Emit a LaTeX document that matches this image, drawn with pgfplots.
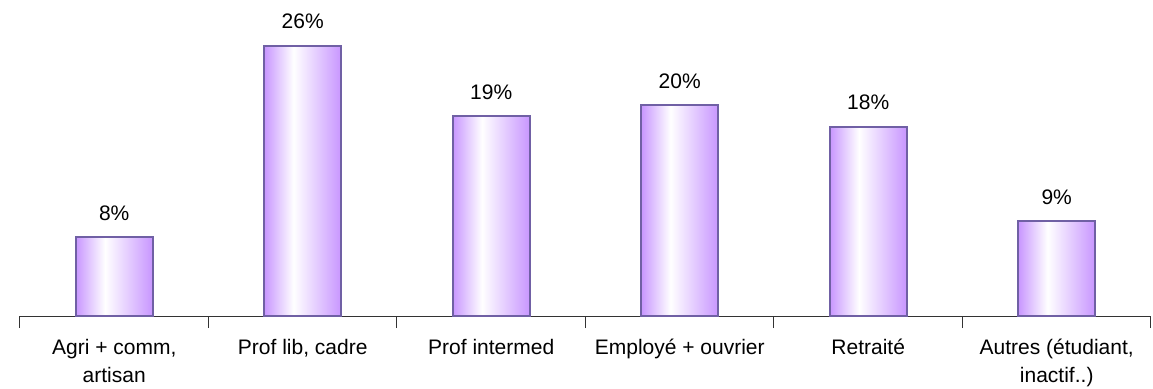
\documentclass[border=0pt]{standalone}
\usepackage{pgfplots}
\pgfplotsset{compat=1.18}
\usepackage{fontspec}
\setmainfont{Liberation Sans}
\definecolor{bpurple}{RGB}{200,150,255}
\definecolor{boutline}{RGB}{112,96,165}
\pgfdeclarehorizontalshading{barshade}{100bp}{color(0bp)=(bpurple); color(25bp)=(bpurple); color(44bp)=(white); color(75bp)=(bpurple); color(100bp)=(bpurple)}
\pgfplotsset{mybar/.style={draw=boutline, line width=1pt, shading=barshade, bar shift=0pt}}
\begin{document}
\begin{tikzpicture}
\path[use as bounding box] (-10pt,-36pt) rectangle (566.5pt,158pt);
\begin{axis}[
  scale only axis,
  width=565.5pt, height=158pt,
  anchor=south west, at={(0pt,0pt)},
  xmin=-0.5, xmax=5.5, ymin=0, ymax=30.4,
  axis y line=none,
  axis x line*=bottom,
  x axis line style={-, black!80, line width=0.5pt},
  xtick={-0.5,0.5,1.5,2.5,3.5,4.5,5.5},
  xticklabels={},
  major tick length=6pt,
  tick align=center,
  x tick style={draw=black!80, line width=0.5pt},
  extra x ticks={0,1,2,3,4,5},
  extra x tick labels={{Agri + comm,\\artisan},{Prof lib, cadre},{Prof intermed},{Employé + ouvrier},{Retraité},{Autres (étudiant,\\inactif..)}},
  extra x tick style={major tick length=0pt, tick style={draw=none}},
  xticklabel style={align=center, font=\fontsize{10.5}{14}\selectfont, yshift=-8pt},
  ybar, bar width=38.5pt,
  /pgf/number format/assume math mode=true,
  nodes near coords={\pgfmathprintnumber[fixed,precision=0]{\pgfplotspointmeta}\%},
  every node near coord/.append style={font=\fontsize{10.5}{12}\selectfont, yshift=4.5pt, black},
  clip=false,
]
\addplot[mybar] coordinates {(0,7.6)};
\addplot[mybar] coordinates {(1,26.0)};
\addplot[mybar] coordinates {(2,19.2)};
\addplot[mybar] coordinates {(3,20.3)};
\addplot[mybar] coordinates {(4,18.2)};
\addplot[mybar] coordinates {(5,9.1)};
\end{axis}
\end{tikzpicture}
\end{document}
